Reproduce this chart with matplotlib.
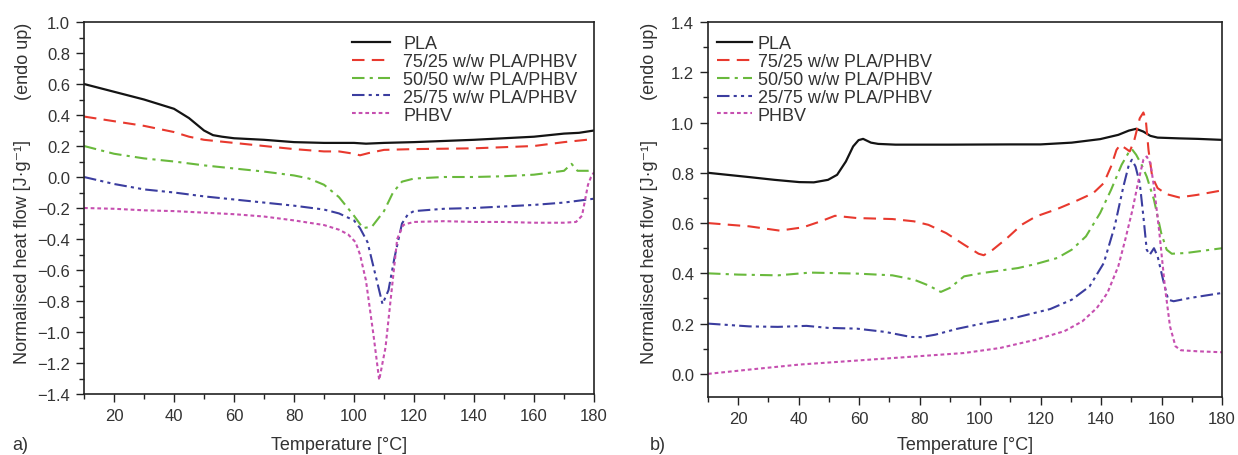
import matplotlib
matplotlib.use("Agg")
import matplotlib.pyplot as plt
from matplotlib.ticker import MultipleLocator

plt.rcParams['font.family'] = ['Liberation Sans', 'DejaVu Sans']

labels = ["PLA", "75/25 w/w PLA/PHBV", "50/50 w/w PLA/PHBV", "25/75 w/w PLA/PHBV", "PHBV"]
colors = ["#141414", "#e8392e", "#69b93c", "#3b3d9f", "#c64fb0"]

# ---------------- panel a) ----------------
a_T_pla = [10, 20, 30, 40, 45, 50, 53, 56, 60, 70, 80, 90, 100, 104, 110, 120, 140, 160, 170, 175, 180]
a_pla = [0.60, 0.55, 0.50, 0.44, 0.38, 0.30, 0.27, 0.26, 0.25, 0.24, 0.225, 0.22, 0.22, 0.215, 0.22, 0.225,
         0.24, 0.26, 0.28, 0.285, 0.30]

a_T_7525 = [10, 20, 30, 40, 45, 50, 60, 70, 80, 90, 95, 100, 102, 105, 110, 120, 140, 160, 170, 180]
a_7525 = [0.39, 0.36, 0.33, 0.29, 0.26, 0.24, 0.22, 0.20, 0.18, 0.165, 0.165, 0.15, 0.14, 0.155, 0.175,
          0.18, 0.185, 0.20, 0.225, 0.245]

a_T_5050 = [10, 20, 30, 40, 50, 60, 70, 80, 85, 90, 95, 100, 103, 106, 110, 113, 116, 120, 130, 140, 150,
            160, 170, 172.5, 174.5, 178, 180]
a_5050 = [0.20, 0.15, 0.12, 0.10, 0.075, 0.055, 0.035, 0.01, -0.01, -0.05, -0.13, -0.25, -0.33, -0.32,
          -0.22, -0.10, -0.03, -0.01, 0.0, 0.0, 0.005, 0.015, 0.04, 0.085, 0.04, 0.04, 0.045]

a_T_2575 = [10, 20, 30, 40, 50, 60, 70, 80, 90, 95, 100, 102, 104.5, 107, 109.5, 111.5, 113.5, 116,
            118, 120, 130, 140, 150, 160, 170, 180]
a_2575 = [0.0, -0.045, -0.08, -0.10, -0.125, -0.145, -0.165, -0.185, -0.21, -0.235, -0.28, -0.33, -0.42,
          -0.62, -0.82, -0.73, -0.52, -0.30, -0.24, -0.22, -0.205, -0.20, -0.19, -0.18, -0.165, -0.14]

a_T_phbv = [10, 20, 30, 40, 50, 60, 70, 80, 90, 95, 98, 100.5, 102, 104, 106.5, 108.4, 110.5, 112.5,
            114.4, 116.4, 118, 120, 130, 140, 150, 160, 170, 174, 176, 177, 178, 179, 180]
a_phbv = [-0.20, -0.205, -0.215, -0.22, -0.23, -0.24, -0.255, -0.28, -0.31, -0.34, -0.37, -0.42, -0.50,
          -0.67, -1.02, -1.31, -1.10, -0.74, -0.40, -0.31, -0.30, -0.29, -0.285, -0.29, -0.29, -0.295,
          -0.295, -0.29, -0.25, -0.15, -0.05, 0.0, 0.03]

# ---------------- panel b) ----------------
b_T_pla = [10, 23.6, 32, 40.2, 45, 49.7, 52.7, 55.6, 58, 59.8, 61.3, 63.9, 66.3, 72, 90, 110, 120, 130.3,
           139.7, 145.7, 149.2, 151.6, 154, 156.3, 158.7, 165.8, 172, 180]
b_pla = [0.80, 0.783, 0.772, 0.763, 0.762, 0.772, 0.792, 0.845, 0.905, 0.93, 0.935, 0.92, 0.915, 0.912,
         0.912, 0.913, 0.913, 0.92, 0.934, 0.951, 0.968, 0.975, 0.964, 0.947, 0.94, 0.937, 0.935, 0.931]

b_T_7525 = [10, 23.6, 33.7, 41.4, 47.3, 52, 59.2, 71, 78.1, 82.9, 88.8, 94.7, 99.5, 101.2, 104.2, 108.9,
            113.7, 118.4, 125.5, 131.4, 137.4, 140.9, 143.3, 145.1, 146.3, 148, 149.5, 151, 152.8, 154,
            154.8, 155.7, 156.9, 158.7, 161.7, 165.8, 171.7, 180]
b_7525 = [0.60, 0.587, 0.57, 0.583, 0.607, 0.629, 0.62, 0.616, 0.607, 0.593, 0.56, 0.514, 0.478, 0.472,
          0.494, 0.54, 0.593, 0.626, 0.656, 0.686, 0.719, 0.759, 0.825, 0.891, 0.911, 0.898, 0.885, 0.93,
          1.017, 1.04, 1.01, 0.89, 0.785, 0.739, 0.715, 0.702, 0.712, 0.73]

b_T_5050 = [10, 20, 33.1, 43.8, 59.2, 71, 78.1, 82.9, 87, 90, 94.7, 100.6, 112.5, 118.4, 125.5, 130.3,
            135, 139.7, 143.3, 146.8, 149, 150.2, 151.6, 153.4, 155.1, 157.5, 159.9, 161.7, 163.4, 168.2,
            180]
b_5050 = [0.40, 0.395, 0.392, 0.403, 0.399, 0.392, 0.375, 0.352, 0.326, 0.342, 0.388, 0.401, 0.421,
          0.437, 0.461, 0.494, 0.547, 0.64, 0.732, 0.832, 0.878, 0.894, 0.872, 0.832, 0.785, 0.693, 0.56,
          0.494, 0.478, 0.481, 0.50]

b_T_2575 = [10, 23.6, 33.1, 42.6, 49.7, 59.2, 68.6, 77, 80.5, 85.2, 92.3, 100.6, 112.5, 123.2, 130.3,
            136.2, 140.9, 144.5, 147.4, 149.2, 150.2, 151.4, 152.8, 154, 155.1, 156.1, 157.5, 158.7, 160.5,
            162.2, 164, 169.4, 180]
b_2575 = [0.20, 0.189, 0.187, 0.191, 0.183, 0.18, 0.167, 0.147, 0.146, 0.156, 0.179, 0.20, 0.226, 0.258,
          0.295, 0.348, 0.441, 0.587, 0.746, 0.832, 0.852, 0.825, 0.759, 0.626, 0.494, 0.474, 0.50, 0.468,
          0.375, 0.295, 0.289, 0.302, 0.322]

b_T_phbv = [10, 23.6, 40.2, 59.2, 77, 94.7, 106.6, 118.4, 127.9, 133.8, 138.6, 142.1, 145.7, 148, 150.4,
            152.2, 154, 155.1, 156.3, 157.5, 159.3, 161.1, 162.8, 164.6, 166.4, 171.7, 180]
b_phbv = [0.0, 0.017, 0.037, 0.053, 0.068, 0.083, 0.103, 0.136, 0.17, 0.209, 0.262, 0.322, 0.428, 0.534,
          0.653, 0.759, 0.852, 0.865, 0.838, 0.746, 0.56, 0.348, 0.189, 0.11, 0.094, 0.09, 0.086]

a_series = [(a_T_pla, a_pla), (a_T_7525, a_7525), (a_T_5050, a_5050), (a_T_2575, a_2575), (a_T_phbv, a_phbv)]
b_series = [(b_T_pla, b_pla), (b_T_7525, b_7525), (b_T_5050, b_5050), (b_T_2575, b_2575), (b_T_phbv, b_phbv)]

styles = ['-', (0, (6, 3.5)), (0, (6, 2.5, 1.5, 2.5)), (0, (6, 2, 1.5, 2, 1.5, 2)), (0, (1.8, 1.4))]
widths = [1.6, 1.5, 1.5, 1.5, 1.5]

W, H = 1238, 456
fig = plt.figure(figsize=(W / 100, H / 100), dpi=100)

def px_axes(x0, x1, y0, y1):
    return fig.add_axes([x0 / W, 1 - y1 / H, (x1 - x0) / W, (y1 - y0) / H])

axA = px_axes(84, 594, 23, 395)
axB = px_axes(708, 1222, 23, 398)

for ax, series, ylim, ymaj in [(axA, a_series, (-1.4, 1.0), 0.2), (axB, b_series, (-0.092, 1.4), 0.2)]:
    for (T, v), c, ls, lw, lab in zip(series, colors, styles, widths, labels):
        ax.plot(T, v, color=c, linestyle=ls, linewidth=lw, label=lab)
    ax.set_xlim(10, 180)
    ax.set_ylim(*ylim)
    ax.xaxis.set_major_locator(MultipleLocator(20))
    ax.xaxis.set_minor_locator(MultipleLocator(10))
    ax.yaxis.set_major_locator(MultipleLocator(ymaj))
    ax.yaxis.set_minor_locator(MultipleLocator(ymaj / 2))
    ax.tick_params(which='both', direction='out', top=False, right=False, color='#222222',
                   labelsize=12, labelcolor='#333333', width=1.0)
    ax.tick_params(which='major', length=6, pad=4)
    ax.tick_params(which='minor', length=3.5)
    for s in ax.spines.values():
        s.set_linewidth(1.2)
        s.set_color('#222222')
    ax.set_xticks([20, 40, 60, 80, 100, 120, 140, 160, 180])

axA.legend(loc='upper left', bbox_to_anchor=(0.525, 0.965), frameon=False, fontsize=13,
           handlelength=2.1, handletextpad=0.75, labelspacing=0.05, borderpad=0, borderaxespad=0,
           labelcolor='#333333')
axB.legend(loc='upper left', bbox_to_anchor=(0.0175, 0.965), frameon=False, fontsize=13,
           handlelength=1.95, handletextpad=0.3, labelspacing=0.05, borderpad=0, borderaxespad=0,
           labelcolor='#333333')

tc = '#333333'
for xlab, xpanel, xt, plab in [(23, 339, 20, 'a)'), (649, 965, 658, 'b)')]:
    fig.text(xlab / W, 1 - 252 / H, 'Normalised heat flow [J·g⁻¹]', rotation=90, ha='center', va='center',
             fontsize=13, color=tc)
    fig.text(xlab / W, 1 - 61 / H, '(endo up)', rotation=90, ha='center', va='center', fontsize=13, color=tc)
    fig.text(xpanel / W, 1 - 446 / H, 'Temperature [°C]', ha='center', va='center', fontsize=13, color=tc)
    fig.text(xt / W, 1 - 446 / H, plab, ha='center', va='center', fontsize=13, color=tc)

fig.savefig('out.png', dpi=100)
